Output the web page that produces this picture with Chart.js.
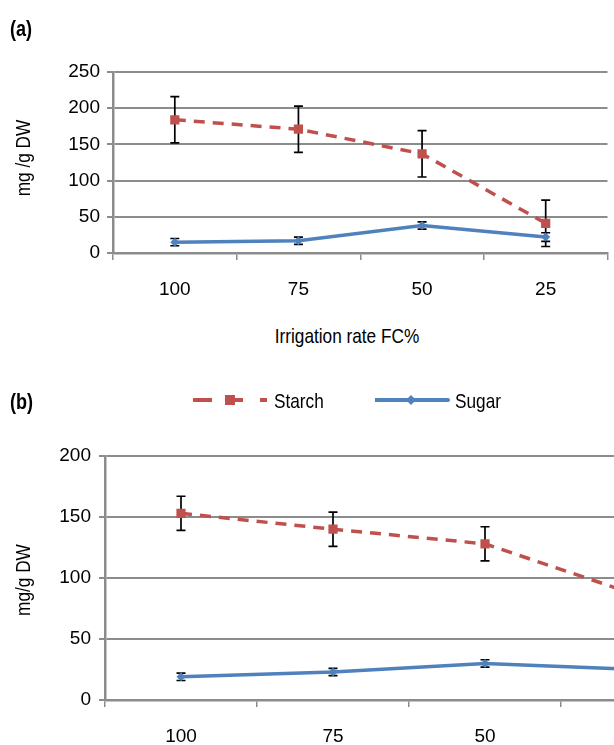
<!DOCTYPE html>
<html>
<head>
<meta charset="utf-8">
<script src="https://cdn.jsdelivr.net/npm/chart.js@4.4.1/dist/chart.umd.min.js"></script>
<style>
  body { margin: 0; background: #fff; }
  #page { position: relative; width: 614px; height: 745px; overflow: hidden;
          font-family: "Liberation Sans", Arial, sans-serif; color: #000; }
  #boxA { position: absolute; left: 0; top: 0; width: 614px; height: 310px; }
  #boxB { position: absolute; left: 0; top: 380px; width: 614px; height: 365px; overflow: hidden; }
  canvas { display: block; }
  /* the source uses a condensed face; squeeze the text horizontally */
  .txt { position: absolute; white-space: nowrap; line-height: 1; transform-origin: 0 50%;
         transform: translate(0, -50%) scaleX(0.82); }
  .panel { font-size: 22px; font-weight: bold; }
  .title { font-size: 21px; }
  .center { transform-origin: 50% 50%; transform: translate(-50%, -50%) scaleX(0.82); }
  .vert { transform-origin: 50% 50%; transform: translate(-50%, -50%) rotate(-90deg) scaleX(0.82); }
  .legsvg { position: absolute; }
</style>
</head>
<body>
<div id="page">
  <div id="boxA"><canvas id="chartA" width="614" height="310"></canvas></div>
  <div id="boxB"><canvas id="chartB" width="720" height="365"></canvas></div>

  <div class="txt panel" style="left:10px; top:29px">(a)</div>
  <div class="txt title vert" style="left:22px; top:158px">mg /g DW</div>
  <div class="txt title center" style="left:347px; top:335px">Irrigation rate FC%</div>

  <div class="txt panel" style="left:10px; top:402px">(b)</div>
  <svg class="legsvg" style="left:193px; top:393px" width="76" height="14">
    <line x1="0" y1="7" x2="74" y2="7" stroke="#c0504d" stroke-width="4" stroke-dasharray="19 13 18 17 7"/>
    <rect x="32" y="2" width="10" height="10" fill="#c0504d"/>
  </svg>
  <div class="txt title" style="left:274px; top:400px">Starch</div>
  <svg class="legsvg" style="left:375px; top:393px" width="76" height="14">
    <line x1="0" y1="7" x2="73" y2="7" stroke="#4f81bd" stroke-width="4" stroke-linecap="round"/>
    <polygon points="36,2 41,7 36,12 31,7" fill="#4f81bd"/>
  </svg>
  <div class="txt title" style="left:455px; top:400px">Sugar</div>
  <div class="txt title vert" style="left:22px; top:580px">mg/g DW</div>
</div>

<script>
// irrigation levels (FC%)
const categories = ["100", "75", "50", "25"];

// (a)
const starchA = [184, 171, 137, 41];
const starchErrA = [32, 32, 32, 32];
const sugarA = [15, 17, 38, 22];
const sugarErrA = [5, 5, 5, 6];
const yMaxA = 250;

// (b)
const starchB = [153, 140, 128, 86];
const starchErrB = [14, 14, 14, 14];
const sugarB = [19, 23, 30, 25];
const sugarErrB = [3, 3, 3, 3];
const yMaxB = 200;

const yStep = 50;
const fontFam = '"Liberation Sans", Arial, sans-serif';
const red = '#c0504d';
const blue = '#4f81bd';
const gridGray = '#8c8c8c';

// error bars, drawn under the markers
const errorBars = {
  id: 'errorBars',
  beforeDatasetsDraw(chart) {
    const ctx = chart.ctx;
    const y = chart.scales.y;
    ctx.save();
    ctx.strokeStyle = '#000';
    ctx.lineWidth = 1.7;
    chart.data.datasets.forEach((ds, i) => {
      const meta = chart.getDatasetMeta(i);
      meta.data.forEach((pt, j) => {
        const v = ds.data[j], e = ds.errors[j];
        const top = y.getPixelForValue(v + e);
        const bot = y.getPixelForValue(v - e);
        const x = pt.x;
        ctx.beginPath();
        ctx.moveTo(x, top); ctx.lineTo(x, bot);
        ctx.moveTo(x - 4.5, top); ctx.lineTo(x + 4.5, top);
        ctx.moveTo(x - 4.5, bot); ctx.lineTo(x + 4.5, bot);
        ctx.stroke();
      });
    });
    ctx.restore();
  }
};

function makeChart(id, starch, starchErr, sugar, sugarErr, yMax, area) {
  return new Chart(id, {
    type: 'line',
    data: {
      labels: categories,
      datasets: [{
        label: 'Starch',
        data: starch,
        errors: starchErr,
        borderColor: red,
        backgroundColor: red,
        borderWidth: 3.5,
        borderDash: [11, 8],
        pointStyle: 'rect',
        pointRadius: 6.5,
        pointBorderWidth: 0,
        pointBackgroundColor: red,
        tension: 0,
        fill: false
      }, {
        label: 'Sugar',
        data: sugar,
        errors: sugarErr,
        borderColor: blue,
        backgroundColor: blue,
        borderWidth: 3.5,
        pointStyle: 'rectRot',
        pointRadius: 4.5,
        pointBorderWidth: 0,
        pointBackgroundColor: blue,
        tension: 0,
        fill: false
      }]
    },
    options: {
      responsive: false,
      animation: false,
      devicePixelRatio: 1,
      layout: { padding: { top: area.top, right: area.right, bottom: 0, left: 0 } },
      plugins: { legend: { display: false }, tooltip: { enabled: false } },
      scales: {
        x: {
          type: 'category',
          offset: true,
          grid: { offset: true, drawOnChartArea: false, drawTicks: true, tickLength: 7, color: gridGray, lineWidth: 1.5 },
          border: { color: gridGray, width: 2.5 },
          ticks: { color: '#000', font: { family: fontFam, size: 19 }, padding: 18, maxRotation: 0 },
          afterFit: s => { s.height = area.xh; }
        },
        y: {
          min: 0,
          max: yMax,
          grid: { color: gridGray, lineWidth: 2, tickLength: 6 },
          border: { color: gridGray, width: 2.5 },
          ticks: { stepSize: yStep, color: '#000', font: { family: fontFam, size: 19 }, padding: area.tpad },
          afterFit: s => { s.width = area.yw; }
        }
      }
    },
    plugins: [errorBars]
  });
}

makeChart('chartA', starchA, starchErrA, sugarA, sugarErrA, yMaxA,
  { top: 72, right: 2, xh: 310 - 253, yw: 113, tpad: 7 });
makeChart('chartB', starchB, starchErrB, sugarB, sugarErrB, yMaxB,
  { top: 76, right: 7, xh: 365 - 320, yw: 105, tpad: 8 });
</script>
</body>
</html>
